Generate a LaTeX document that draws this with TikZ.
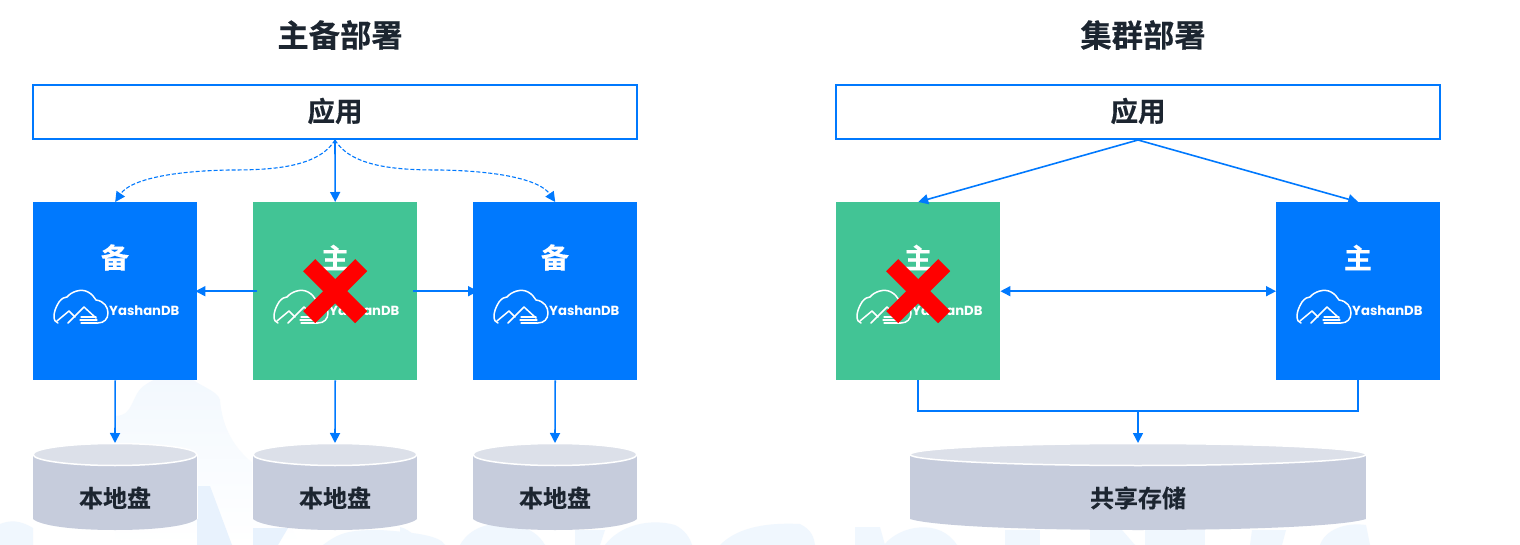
\documentclass[tikz,border=0pt]{standalone}
\usepackage{fontspec}
\setmainfont{Noto Sans CJK SC}[BoldFont={* Bold},BoldFeatures={FakeBold=0.35}]
\newfontfamily\logofont{Poppins}
\usetikzlibrary{arrows.meta}
\definecolor{yblue}{HTML}{0079FE}
\definecolor{ygreen}{HTML}{42C495}
\definecolor{ydark}{HTML}{1C2530}
\definecolor{cylside}{HTML}{C6CCDC}
\definecolor{cyltop}{HTML}{DCE0E9}
\definecolor{wm}{HTML}{F0F7FE}
\definecolor{wmb}{HTML}{E8F2FD}
\definecolor{wmt}{HTML}{F2F8FE}
\tikzset{
  x=1pt,y=-1pt,
  title/.style={font=\bfseries\fontsize{31.3}{32}\selectfont,text=ydark,inner sep=0pt},
  appbox/.style={draw=yblue,line width=2pt,fill=white,minimum width=604pt,minimum height=54pt,inner sep=0pt,font=\bfseries\fontsize{27.5}{28}\selectfont,text=ydark},
  dbbox/.style={minimum width=164pt,minimum height=178pt,inner sep=0pt,anchor=north west},
  bluebox/.style={dbbox,fill=yblue},
  greenbox/.style={dbbox,fill=ygreen},
  role/.style={font=\bfseries\fontsize{28}{28}\selectfont,text=white,inner sep=0pt},
  disklabel/.style={font=\bfseries\fontsize{24}{24}\selectfont,text=ydark,inner sep=0pt},
  conn/.style={draw=yblue,line width=1.6pt,-{Triangle[length=10pt,width=10pt]}},
  connboth/.style={draw=yblue,line width=1.6pt,{Triangle[length=10pt,width=10pt]}-{Triangle[length=10pt,width=10pt]}},
  connplain/.style={draw=yblue,line width=1.6pt},
  dashconn/.style={draw=yblue,line width=1.1pt,dash pattern=on 4pt off 2pt,-{Triangle[length=10pt,width=10pt]}},
  cross/.style={draw=red,line width=17pt},
  logoline/.style={draw=white,line width=1.5pt,line join=round,line cap=round},
  logotext/.style={font=\logofont\bfseries\fontsize{13.2}{14}\selectfont,text=white,inner sep=0pt},
}
% logo drawn with its origin at the left edge of the box, on the level y=291
\newcommand{\yslogo}[1]{%
  \begin{scope}[shift={(#1+1,291)}]
    \draw[logoline] (24,32) .. controls (19,31) and (18,22) .. (25,11)
      .. controls (28,7) and (31,6) .. (33,6)
      .. controls (37,1) and (47,-3) .. (54,1)
      .. controls (58,3) and (60,6) .. (62,9)
      .. controls (70,10) and (74,16) .. (74,22)
      .. controls (74,28) and (70,32) .. (64,32) -- (62,32);
    \draw[logoline] (23,30) -- (35,20) -- (41,26);
    \draw[logoline] (34,32) -- (50,16) -- (62,27);
    \draw[logoline,line width=1.1pt] (47,26) -- (62,26) (46,29) -- (63,29) (47,32) -- (63,32);
    \node[logotext,anchor=west] at (75,19.5) {YashanDB};
  \end{scope}}
\begin{document}
\begin{tikzpicture}
\useasboundingbox (0,0) rectangle (1520,545);
\fill[white] (0,0) rectangle (1520,545);
% faint watermark
\begin{scope}
  \clip (0,0) rectangle (1520,545);
  \shade[top color=wmt,bottom color=white] (115,416) .. controls (135,416) and (130,395) .. (145,385) .. controls (155,378) and (170,372) .. (190,376) .. controls (195,385) and (218,390) .. (220,400) .. controls (222,425) and (232,450) .. (262,470) -- (300,545) -- (115,545) -- cycle;
  \fill[wmb] (197,486) -- (210,486) -- (232,545) -- (197,545) -- cycle;
  \fill[wm] (0,524) .. controls (10,520) and (20,520) .. (33,528) -- (33,545) -- (0,545) -- cycle;
  \fill[wmb] (253,528) -- (288,528) -- (278,545) -- (253,545) -- cycle;
  \fill[wm] (323,545) .. controls (340,532) and (350,530) .. (380,530) .. controls (410,532) and (440,535) .. (445,545) -- cycle;
  \fill[wm] (400,527) .. controls (412,530) and (418,540) .. (420,545) -- (400,545) -- cycle;
  \fill[wm] (460,545) .. controls (470,527) and (490,522) .. (510,524) .. controls (530,527) and (540,536) .. (545,545) -- cycle;
  \fill[wm] (575,530) -- (605,530) -- (600,545) -- (575,545) -- cycle;
  \fill[wm] (605,545) .. controls (620,525) and (650,518) .. (675,525) .. controls (685,530) and (690,538) .. (692,545) -- cycle;
  \fill[wm] (720,545) .. controls (735,530) and (760,522) .. (800,524) .. controls (812,530) and (814,538) .. (815,545) -- cycle;
  \fill[wm] (855,527) -- (880,527) -- (885,545) -- (855,545) -- cycle;
  \fill[wm] (884,545) .. controls (900,525) and (940,518) .. (957,545) -- cycle;
  \fill[wm] (1005,530) -- (1040,530) -- (1040,545) -- (1005,545) -- cycle;
  \fill[wm] (1090,530) -- (1122,530) -- (1135,545) -- (1090,545) -- cycle;
  \fill[wm] (1145,530) -- (1205,530) -- (1205,545) -- (1145,545) -- cycle;
  \fill[wm] (1252,530) -- (1286,530) -- (1282,545) -- (1250,545) -- cycle;
  \fill[wm] (1320,545) .. controls (1325,530) and (1345,522) .. (1366,525) -- (1370,545) -- cycle;
\end{scope}

% titles
\node[title] (t1) at (340,35) {主备部署};
\node[title] (t2) at (1143,35) {集群部署};

% application bars
\node[appbox] (app1) at (335,112) {};
\node[appbox] (app2) at (1138,112) {};
\node[font=\bfseries\fontsize{27.5}{28}\selectfont,text=ydark,inner sep=0pt] (at1) at (335,111) {应用};
\node[font=\bfseries\fontsize{27.5}{28}\selectfont,text=ydark,inner sep=0pt] (at2) at (1138,111) {应用};

% database boxes
\node[bluebox]  (b1) at (33,202) {};
\node[greenbox] (b2) at (253,202) {};
\node[bluebox]  (b3) at (473,202) {};
\node[greenbox] (b4) at (836,202) {};
\node[bluebox]  (b5) at (1276,202) {};

\node[role] (r1) at (115,257.5) {备};
\node[role] (r2) at (335,257.5) {主};
\node[role] (r3) at (555,257.5) {备};
\node[role] (r4) at (918,257.5) {主};
\node[role] (r5) at (1358,257.5) {主};

\yslogo{33}\yslogo{253}\yslogo{473}\yslogo{836}\yslogo{1276}

% disks
\foreach \cx/\rx/\nm in {115/82/d1,335/82/d2,555/82/d3,1138/228/d4}{
  \fill[cylside] (\cx-\rx,455) -- (\cx+\rx,455) -- (\cx+\rx,519) .. controls (\cx+\rx-0.1*\rx,526) and (\cx+0.5*\rx,530) .. (\cx,530) .. controls (\cx-0.5*\rx,530) and (\cx-\rx+0.1*\rx,526) .. (\cx-\rx,519) -- cycle;
  \draw[white,line width=1.2pt] (\cx-\rx-0.6,455) -- (\cx-\rx-0.6,519) (\cx+\rx+0.6,455) -- (\cx+\rx+0.6,519);
  \draw[white,line width=1.5pt,fill=cyltop] (\cx,454.5) ellipse[x radius=\rx,y radius=11];
  \coordinate (\nm) at (\cx,443);
}
\node[disklabel] (l1) at (115,498) {本地盘};
\node[disklabel] (l2) at (335,498) {本地盘};
\node[disklabel] (l3) at (555,498) {本地盘};
\node[disklabel] (l4) at (1138,498) {共享存储};

% left connectors
\draw[conn] (app1.south) -- (b2.north);
\draw[dashconn] (app1.south) .. controls (318,168) and (270,170) .. (230,170) .. controls (170,171) and (130,180) .. (b1.north);
\draw[dashconn] (app1.south) .. controls (352,168) and (400,170) .. (440,170) .. controls (500,171) and (540,180) .. (b3.north);
\coordinate (g1) at ([xshift=4pt]b2.west);
\coordinate (g2) at ([xshift=-4pt]b2.east);
\coordinate (g3) at ([xshift=-2pt]b1.east);
\coordinate (g4) at ([xshift=5pt]b3.west);
\draw[conn] (g1) -- (g3);
\draw[conn] (g2) -- (g4);
\draw[conn] (b1.south) -- (d1);
\draw[conn] (b2.south) -- (d2);
\draw[conn] (b3.south) -- (d3);

% right connectors
\draw[conn] (app2.south) -- (b4.north);
\draw[conn] (app2.south) -- (b5.north);
\draw[connboth] (b4.east) -- (b5.west);
\coordinate (j1) at (1138,411);
\draw[connplain] (b4.south) |- (j1) -| (b5.south);
\draw[conn] (j1) -- (d4);

% crosses
\coordinate (x1) at (b2.center);
\coordinate (x2) at (b4.center);
\foreach \c in {x1,x2}{
  \draw[cross] ([shift={(-26,-26)}]\c) -- ([shift={(26,26)}]\c);
  \draw[cross] ([shift={(-26,26)}]\c) -- ([shift={(26,-26)}]\c);
}
\end{tikzpicture}
\end{document}
